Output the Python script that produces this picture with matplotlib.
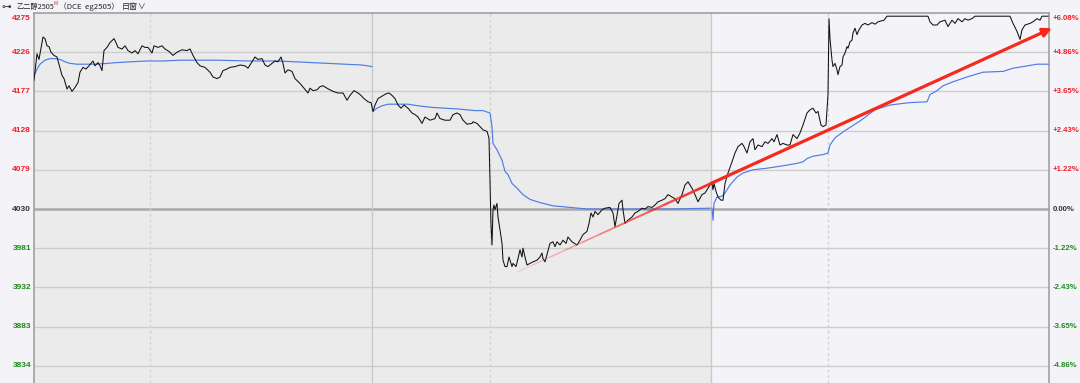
import numpy as np
import matplotlib.pyplot as plt
from matplotlib.collections import LineCollection
from matplotlib.transforms import blended_transform_factory

# x = minute index from the left edge, y = price (DCE eg2505)
price_pts = [
    # session 1
    (0, 4191), (1, 4202), (3, 4224), (5, 4217), (9, 4245), (11, 4243), (13, 4234),
    (15, 4233), (17, 4226), (20, 4222), (23, 4220), (25, 4211), (28, 4197), (30, 4193),
    (33, 4180), (35, 4184), (38, 4177), (41, 4182), (44, 4188), (46, 4201), (49, 4207),
    (52, 4205), (55, 4209), (59, 4215), (61, 4209), (64, 4213), (66, 4209), (68, 4203),
    (70, 4228), (73, 4232), (76, 4238), (80, 4243), (82, 4238), (84, 4232), (88, 4230),
    (91, 4234), (94, 4228), (98, 4225), (101, 4228), (104, 4224), (108, 4234), (111, 4232),
    (114, 4232), (118, 4225), (120, 4234), (124, 4232), (128, 4234), (131, 4230),
    (135, 4227), (139, 4222), (143, 4226), (148, 4229), (153, 4228), (156, 4230),
    (159, 4222), (163, 4213), (166, 4209), (171, 4207), (176, 4201), (179, 4195),
    (183, 4193), (186, 4195), (189, 4203), (193, 4205), (196, 4207), (201, 4208),
    (206, 4210), (211, 4209), (214, 4206), (218, 4214), (221, 4220), (224, 4217),
    (228, 4218), (231, 4210), (234, 4208), (238, 4212), (241, 4215), (244, 4214),
    (247, 4220), (249, 4212), (251, 4200), (254, 4204), (258, 4202), (261, 4193),
    (266, 4187), (270, 4181), (274, 4175), (276, 4181), (279, 4178), (283, 4179),
    (286, 4183), (289, 4184), (293, 4181), (296, 4179), (299, 4177), (304, 4175),
    (309, 4175), (313, 4166), (316, 4172), (320, 4178), (324, 4175), (327, 4172),
    (330, 4168), (334, 4164), (337, 4163),
    # session 2
    (339, 4152), (341, 4160), (344, 4168), (348, 4171), (352, 4174), (355, 4175),
    (358, 4172), (361, 4168), (364, 4160), (367, 4156), (370, 4160), (374, 4156),
    (378, 4150), (381, 4148), (384, 4145), (388, 4137), (391, 4145), (396, 4141),
    (401, 4143), (403, 4150), (406, 4143), (411, 4141), (416, 4141), (419, 4148),
    (423, 4150), (426, 4148), (429, 4141), (433, 4136), (438, 4137), (439, 4139),
    (443, 4137), (446, 4133), (449, 4129), (453, 4127), (454, 4123), (455, 4118),
    (457, 4010), (458, 3985), (459, 4029), (460, 4035), (461, 4029), (463, 4037),
    (464, 4020), (466, 4004), (468, 3987), (469, 3966), (471, 3958), (473, 3958),
    (475, 3970), (478, 3958), (479, 3962), (482, 3958), (484, 3968), (486, 3979),
    (488, 3970), (489, 3981), (491, 3970), (493, 3960), (496, 3962), (499, 3964),
    (503, 3966), (506, 3970), (508, 3975), (509, 3968), (511, 3964), (513, 3973),
    (516, 3987), (519, 3989), (521, 3983), (523, 3989), (526, 3985), (529, 3991),
    (532, 3987), (534, 3995), (538, 3989), (543, 3985), (546, 3991), (549, 3998),
    (553, 4002), (555, 4012), (557, 4025), (559, 4020), (561, 4027), (564, 4023),
    (568, 4029), (571, 4031), (576, 4032), (579, 4025), (581, 4008), (583, 4022),
    (585, 4037), (588, 4041), (589, 4029), (591, 4012), (594, 4016), (598, 4020),
    (601, 4025), (604, 4027), (608, 4031), (611, 4030), (614, 4033), (618, 4032),
    (621, 4035), (624, 4039), (628, 4041), (631, 4043), (634, 4048), (638, 4045),
    (641, 4043), (644, 4037), (648, 4048), (651, 4060), (654, 4064), (658, 4056),
    (661, 4048), (664, 4039), (668, 4048), (671, 4050), (674, 4056), (676, 4060),
    # session 3
    (678, 4062), (679, 4054), (680, 4062), (682, 4052), (684, 4045), (687, 4041),
    (689, 4041), (691, 4062), (694, 4075), (698, 4089), (701, 4100), (704, 4108),
    (708, 4112), (710, 4108), (713, 4100), (716, 4114), (719, 4118), (721, 4104),
    (724, 4110), (728, 4108), (731, 4114), (734, 4112), (738, 4118), (740, 4114),
    (743, 4123), (746, 4110), (749, 4112), (753, 4110), (756, 4110), (759, 4123),
    (763, 4118), (766, 4125), (769, 4135), (773, 4150), (776, 4154), (779, 4156),
    (782, 4150), (784, 4152), (787, 4135), (789, 4133), (792, 4135), (794, 4173),
    (795, 4268), (796, 4243), (798, 4216), (799, 4208), (801, 4212), (803, 4204),
    (804, 4198), (806, 4208), (808, 4210), (809, 4220), (811, 4225), (813, 4233),
    (814, 4231), (816, 4239), (818, 4241), (819, 4250), (821, 4256), (823, 4248),
    (825, 4254), (828, 4260), (831, 4262), (834, 4260), (838, 4263), (841, 4261),
    (844, 4264), (850, 4266), (853, 4271), (894, 4271), (896, 4264), (899, 4260),
    (903, 4260), (906, 4264), (911, 4266), (914, 4258), (918, 4266), (921, 4262),
    (924, 4268), (928, 4264), (931, 4268), (934, 4266), (938, 4268), (941, 4271),
    (976, 4271), (979, 4262), (983, 4252), (986, 4242), (988, 4254), (991, 4260),
    (996, 4262), (999, 4264), (1003, 4268), (1006, 4266), (1008, 4271), (1014, 4271),
]

# session average price lines
avg_s1 = [
    (0, 4196), (3, 4205), (6, 4211), (11, 4216), (16, 4218), (21, 4218), (26, 4217),
    (31, 4214), (36, 4212), (43, 4211), (63, 4211), (73, 4212), (83, 4213), (96, 4214),
    (113, 4215), (129, 4215), (146, 4216), (163, 4216), (183, 4216), (216, 4215),
    (244, 4215), (261, 4214), (278, 4213), (294, 4212), (311, 4211), (328, 4210),
    (338, 4208),
]
avg_s2 = [
    (339, 4152), (343, 4156), (348, 4159), (354, 4161), (364, 4161), (374, 4161),
    (384, 4159), (398, 4157), (411, 4156), (424, 4155), (441, 4153), (449, 4153),
    (456, 4150), (458, 4133), (459, 4112), (463, 4104), (468, 4091), (471, 4077),
    (474, 4073), (478, 4062), (483, 4056), (489, 4048), (496, 4042), (506, 4038),
    (519, 4034), (536, 4032), (553, 4030), (586, 4030), (636, 4030), (676, 4031),
]
avg_s3 = [
    (678, 4031), (679, 4016), (680, 4037), (683, 4045), (688, 4046), (691, 4050),
    (696, 4060), (703, 4070), (709, 4075), (719, 4079), (733, 4081), (749, 4084),
    (763, 4087), (769, 4089), (773, 4093), (779, 4096), (789, 4098), (794, 4100),
    (796, 4110), (801, 4119), (811, 4128), (826, 4140), (841, 4154), (856, 4160),
    (876, 4163), (893, 4164), (896, 4173), (903, 4178), (909, 4184), (919, 4189),
    (933, 4195), (949, 4201), (969, 4202), (979, 4206), (989, 4208), (1003, 4211),
    (1015, 4211),
]

# trend arrow (start, bend where it gets bold, head)
trend_start = (483, 3951)
trend_mid = (677, 4062)
trend_end = (1018, 4256)

base_price = 4030
left_ticks = [4275, 4226, 4177, 4128, 4079, 4030, 3981, 3932, 3883, 3834]
right_labels = ["+6.08%", "+4.86%", "+3.65%", "+2.43%", "+1.22%", "0.00%",
                "-1.22%", "-2.43%", "-3.65%", "-4.86%"]
session_breaks = [338, 677]
night_breaks = [116, 456, 794]

RED = "#f0202a"
GREEN = "#1e8a1e"
GRAY_TXT = "#333333"

W, H = 1080, 383
fig = plt.figure(figsize=(W / 100, H / 100), dpi=100)
fig.patch.set_facecolor("#f4f4f8")

ax = fig.add_axes([34 / W, 0, 1015 / W, 370 / H])
ax.set_facecolor("#ebebeb")
ax.set_xlim(0, 1015)
ax.set_ylim(3812.5, 4275)
ax.axvspan(677, 1015, color="#f4f4f8", zorder=0)

for v in left_ticks[1:]:
    if v == base_price:
        ax.axhline(v, color="#a9a9a9", lw=1.8, zorder=1)
    else:
        ax.axhline(v, color="#cdcdcd", lw=1.0, zorder=1)
for xv in session_breaks:
    ax.axvline(xv, color="#c8c8c8", lw=1.0, zorder=1)
for xv in night_breaks:
    ax.axvline(xv, color="#d2d2d2", lw=1.0, ls=(0, (2, 2)), zorder=1)

for seg in (avg_s1, avg_s2, avg_s3):
    t, p = np.array(seg).T
    ax.plot(t, p, color="#4f7be6", lw=0.85, zorder=3)

t, p = np.array(price_pts).T
ax.plot(t, p, color="#111111", lw=0.75, zorder=4)

# faint part of the trend line, getting stronger toward the bend
n = 12
xs = np.linspace(trend_start[0], trend_mid[0], n + 1)
ys = np.linspace(trend_start[1], trend_mid[1], n + 1)
segs = [[(xs[i], ys[i]), (xs[i + 1], ys[i + 1])] for i in range(n)]
alphas = np.linspace(0.2, 0.95, n)
widths = np.linspace(0.7, 1.9, n)
cols = [(0.96, 0.15, 0.12, a) for a in alphas]
ax.add_collection(LineCollection(segs, colors=cols, linewidths=widths, zorder=5))

ax.annotate("", xy=trend_end, xytext=trend_mid,
            arrowprops=dict(arrowstyle="-|>", color="#f5291c", lw=2.3,
                            mutation_scale=13, shrinkA=0, shrinkB=0),
            annotation_clip=False, zorder=6)

ax.set_xticks([])
ax.set_yticks([])
for side in ("left", "right", "top"):
    ax.spines[side].set_color("#a0a0a0")
    ax.spines[side].set_linewidth(1.2)
ax.spines["bottom"].set_visible(False)

trans = blended_transform_factory(ax.transAxes, ax.transData)
for i, (v, lab) in enumerate(zip(left_ticks, right_labels)):
    col = RED if v > base_price else (GRAY_TXT if v == base_price else GREEN)
    va = "top" if i == 0 else "center"
    yv = v - 3 if i == 0 else v
    ax.text(-3 / 1015, yv, str(v), transform=trans, ha="right", va=va,
            fontsize=6, fontweight="bold", color=col, family="Liberation Sans")
    ax.text(1 + 3.5 / 1015, yv, lab, transform=trans, ha="left", va=va,
            fontsize=5.6, fontweight="bold", color=col, family="Liberation Sans")

# header line
cjk = ["Noto Sans CJK SC", "DejaVu Sans"]
fig.text(1 / W, 1 - 6.5 / H, "⊶", fontsize=7, color="#333333", va="center", family=cjk)
fig.text(16 / W, 1 - 6.5 / H, "乙二醇2505", fontsize=5.2, color="#222222",
         va="center", family=cjk)
fig.text(54 / W, 1 - 3.5 / H, "M", fontsize=3.6, color=RED, va="center", family=cjk)
fig.text(59 / W, 1 - 6.5 / H, "（DCE  eg2505）", fontsize=5.6, color="#222222",
         va="center", family=cjk)
fig.text(122 / W, 1 - 6.5 / H, "日窗", fontsize=5.8, color="#222222",
         va="center", family=cjk)
fig.text(137 / W, 1 - 6.5 / H, "∨", fontsize=5.5, color="#222222",
         va="center", family=cjk)

fig.savefig("out.png", dpi=100, facecolor=fig.get_facecolor())
